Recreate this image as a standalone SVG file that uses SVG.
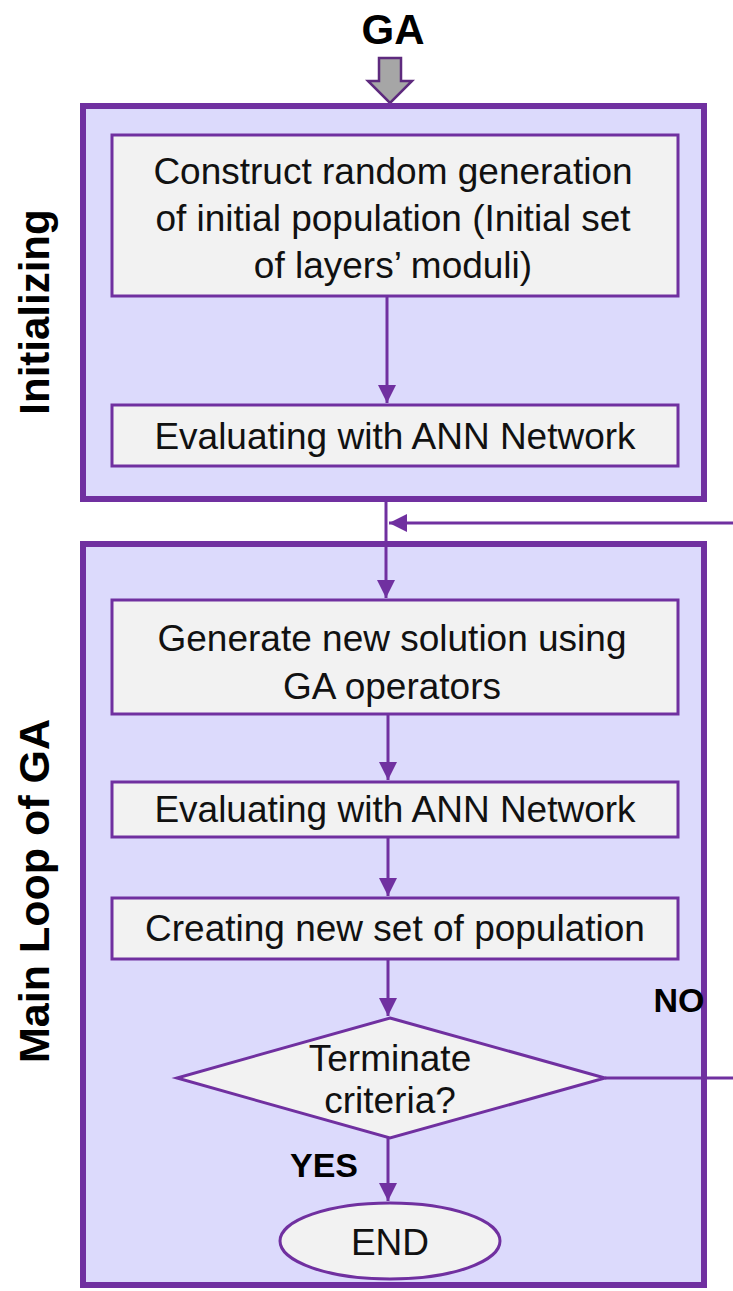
<svg xmlns="http://www.w3.org/2000/svg" width="733" height="1291" viewBox="0 0 733 1291">
<defs>
<style>
.cont{fill:#DCDAFC;stroke:#7030A0;stroke-width:6}
.box{fill:#F2F2F2;stroke:#7030A0;stroke-width:3}
.t{font-family:"Liberation Sans",Arial,sans-serif;font-size:37px;fill:#111;text-anchor:middle}
.b{font-family:"Liberation Sans",Arial,sans-serif;font-weight:bold;fill:#000;text-anchor:middle}
.ln{stroke:#7030A0;stroke-width:3;fill:none}
</style>
<marker id="ah" markerWidth="7" markerHeight="6" refX="6" refY="3" orient="auto" markerUnits="strokeWidth">
<path d="M0,0 L6,3 L0,6 Z" fill="#7030A0"/>
</marker>
</defs>
<rect width="733" height="1291" fill="#FFFFFF"/>

<g id="title">
<text class="b" x="393" y="44" font-size="42">GA</text>
<path d="M379,58 L401,58 L401,81 L412,81 L390,103 L368,81 L379,81 Z" fill="#A6A6A6" stroke="#5E2A7E" stroke-width="2.5"/>
</g>

<g id="initializing">
<rect class="cont" x="83" y="106" width="621" height="393"/>
<text class="b" font-size="42" transform="translate(49,312) rotate(-90)">Initializing</text>
</g>

<g id="mainloop">
<rect class="cont" x="83" y="544" width="621" height="741"/>
<text class="b" font-size="43" transform="translate(49,891) rotate(-90)">Main Loop of GA</text>
</g>

<g id="construct">
<rect class="box" x="112" y="135" width="566" height="161"/>
<text class="t" x="393" y="184">Construct random generation</text>
<text class="t" x="393" y="231">of initial population (Initial set</text>
<text class="t" x="393" y="278">of layers’ moduli)</text>
</g>

<g id="eval1">
<rect class="box" x="112" y="405" width="566" height="61"/>
<text class="t" x="395" y="449">Evaluating with ANN Network</text>
</g>

<g id="generate">
<rect class="box" x="112" y="600" width="566" height="114"/>
<text class="t" x="392" y="651">Generate new solution using</text>
<text class="t" x="392" y="699">GA operators</text>
</g>

<g id="eval2">
<rect class="box" x="112" y="782" width="566" height="55"/>
<text class="t" x="395" y="822">Evaluating with ANN Network</text>
</g>

<g id="create">
<rect class="box" x="112" y="898" width="566" height="61"/>
<text class="t" x="395" y="941">Creating new set of population</text>
</g>

<g id="decision">
<polygon class="box" points="390,1018 605,1078 390,1138 177,1078"/>
<text class="t" x="390" y="1071">Terminate</text>
<text class="t" x="390" y="1113">criteria?</text>
</g>

<g id="end">
<ellipse class="box" cx="390" cy="1241" rx="110" ry="38"/>
<text class="t" x="390" y="1255">END</text>
</g>

<g id="connectors">
<line class="ln" x1="387" y1="296" x2="387" y2="403" marker-end="url(#ah)"/>
<line class="ln" x1="386" y1="499" x2="386" y2="598" marker-end="url(#ah)"/>
<line class="ln" x1="733" y1="523" x2="389" y2="523" marker-end="url(#ah)"/>
<line class="ln" x1="388" y1="714" x2="388" y2="780" marker-end="url(#ah)"/>
<line class="ln" x1="388" y1="837" x2="388" y2="896" marker-end="url(#ah)"/>
<line class="ln" x1="388" y1="959" x2="388" y2="1016" marker-end="url(#ah)"/>
<line class="ln" x1="388" y1="1138" x2="388" y2="1201" marker-end="url(#ah)"/>
<line class="ln" x1="605" y1="1078" x2="733" y2="1078"/>
<text class="b" x="679" y="1012" font-size="34">NO</text>
<text class="b" x="324" y="1177" font-size="34">YES</text>
</g>
</svg>
